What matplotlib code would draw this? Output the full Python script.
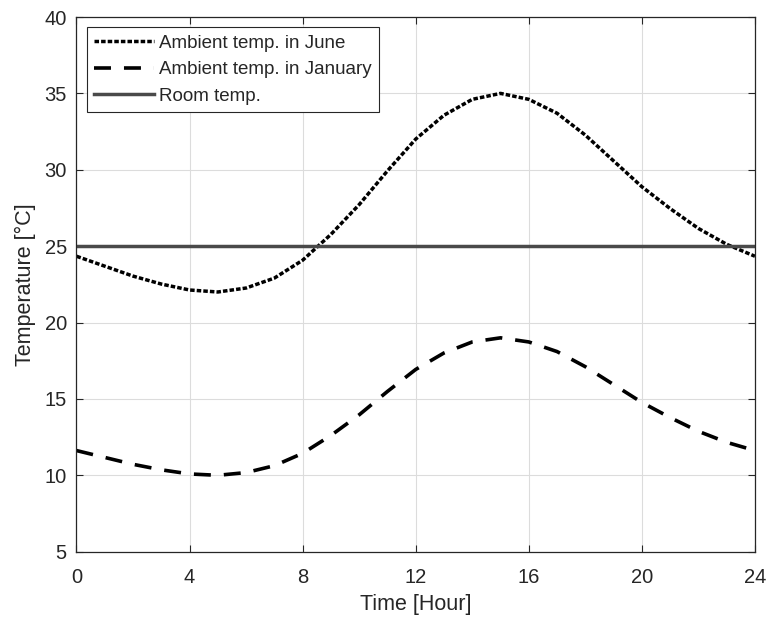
import matplotlib
matplotlib.use("Agg")
import matplotlib.pyplot as plt

hours = list(range(0, 25))
june = [24.34, 23.69, 23.04, 22.52, 22.13, 22.00, 22.26, 22.91, 24.08, 25.77,
        27.72, 29.93, 32.01, 33.57, 34.61, 35.00, 34.61, 33.70, 32.27, 30.58,
        28.89, 27.46, 26.16, 25.12, 24.34]
january = [11.62, 11.17, 10.72, 10.36, 10.09, 10.00, 10.18, 10.63, 11.44, 12.61,
           13.96, 15.49, 16.93, 18.01, 18.73, 19.00, 18.73, 18.10, 17.11, 15.94,
           14.77, 13.78, 12.88, 12.16, 11.62]
room = [25.0] * len(hours)
xticks = [0, 4, 8, 12, 16, 20, 24]
yticks = [5, 10, 15, 20, 25, 30, 35, 40]

plt.rcParams['font.family'] = ['Liberation Sans', 'DejaVu Sans']
txt = '#262626'

fig = plt.figure(figsize=(7.68, 6.21), dpi=100)
ax = fig.add_axes([0.0996, 0.1116, 0.8834, 0.861])

ax.plot(hours, june, color='black', lw=2.5, linestyle=(0, (1.3, 0.6)),
        dash_capstyle='butt', label='Ambient temp. in June')
ax.plot(hours, january, color='black', lw=2.6, linestyle=(0, (4.7, 3.6)),
        dash_capstyle='butt', label='Ambient temp. in January')
ax.plot(hours, room, color='#4a4a4a', lw=2.5, label='Room temp.')

ax.set_xlim(0, 24)
ax.set_ylim(5, 40)
ax.set_xticks(xticks)
ax.set_yticks(yticks)
ax.grid(True, color='#dcdcdc', lw=0.8)
ax.set_axisbelow(True)
ax.tick_params(direction='in', top=True, right=True, length=5, width=0.8,
               labelsize=14.5, colors=txt, labelcolor=txt)
ax.tick_params(axis='x', pad=12)
ax.tick_params(axis='y', pad=7)
for s in ax.spines.values():
    s.set_color('#262626')
    s.set_linewidth(0.9)

ax.set_xlabel('Time [Hour]', fontsize=15.5, color=txt, labelpad=5)
ax.set_ylabel('Temperature [°C]', fontsize=15.5, color=txt, labelpad=6)

leg = ax.legend(loc='upper left', fontsize=13.5, handlelength=3.2,
                handletextpad=0.25, borderpad=0.4, labelspacing=0.5,
                fancybox=False, framealpha=1, edgecolor='#262626',
                bbox_to_anchor=(0.0, 1.0), borderaxespad=0.55)
leg.get_frame().set_linewidth(0.8)
for t in leg.get_texts():
    t.set_color(txt)

fig.savefig('out.png', dpi=100)
